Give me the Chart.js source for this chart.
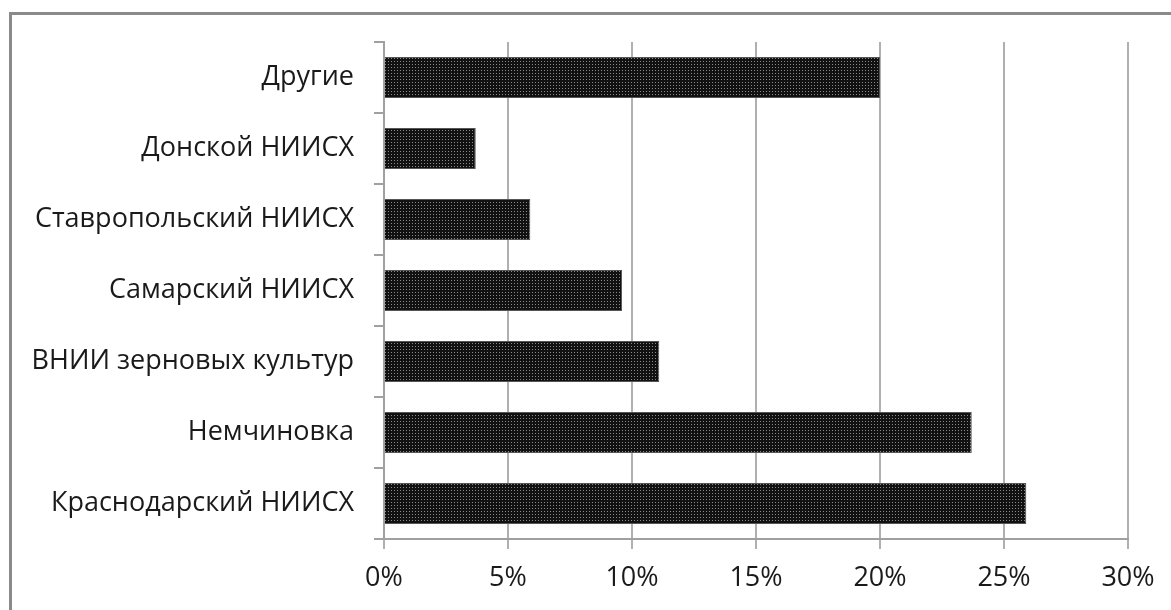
<!DOCTYPE html>
<html>
<head>
<meta charset="utf-8">
<script src="https://cdn.jsdelivr.net/npm/chart.js@4"></script>
<style>
  html, body { margin: 0; padding: 0; background: #fff; overflow: hidden; }
  #wrap { position: relative; width: 1171px; height: 610px; }
  #frame { position: absolute; left: 9px; top: 12px; width: 1200px; height: 650px; border: 3px solid #8a8a8a; box-sizing: border-box; }
  canvas { position: absolute; left: 0; top: 0; }
</style>
</head>
<body>
<div id="wrap">
  <div id="frame"></div>
  <canvas id="myChart" width="1171" height="610"></canvas>
</div>
<script>
const labels = ['Другие', 'Донской НИИСХ', 'Ставропольский НИИСХ', 'Самарский НИИСХ',
    'ВНИИ зерновых культур', 'Немчиновка', 'Краснодарский НИИСХ'];
const shares = [20.0, 3.7, 5.9, 9.6, 11.1, 23.7, 25.9];
const xTicks = [0, 5, 10, 15, 20, 25, 30];

// dotted fill like the original bars
function dotPattern() {
    const c = document.createElement('canvas');
    c.width = 3;
    c.height = 3;
    const g = c.getContext('2d');
    g.fillStyle = '#111';
    g.fillRect(0, 0, 3, 3);
    g.fillStyle = '#8a8a8a';
    g.fillRect(1, 1, 1, 1);
    return g.createPattern(c, 'repeat');
}

const font = { family: '"Open Sans", sans-serif', size: 27 };

const data = {
    labels: labels,
    datasets: [{
        data: shares,
        backgroundColor: dotPattern(),
        borderColor: '#555',
        borderWidth: 1,
        categoryPercentage: 1,
        barPercentage: 0.58
    }]
};

const config = {
    type: 'bar',
    data: data,
    options: {
        indexAxis: 'y',
        responsive: false,
        animation: false,
        layout: { padding: { top: 42, right: 43, left: 0, bottom: 0 } },
        plugins: { legend: { display: false }, tooltip: { enabled: false } },
        scales: {
            x: {
                min: 0,
                max: 30,
                afterBuildTicks: (scale) => { scale.ticks = xTicks.map(v => ({ value: v })); },
                afterFit: (scale) => { scale.height = 71; },
                ticks: { callback: (v) => v + '%', color: '#1a1a1a', font: font, padding: 13 },
                grid: { color: '#b0b0b0', lineWidth: 2, tickLength: 10 },
                border: { color: '#a0a0a0', width: 2 }
            },
            y: {
                afterFit: (scale) => { scale.width = 384; },
                ticks: { color: '#1a1a1a', font: font, padding: 20 },
                grid: { drawOnChartArea: false, color: '#a0a0a0', lineWidth: 2, tickLength: 10, offset: true },
                border: { color: '#a0a0a0', width: 2 }
            }
        }
    }
};

// eslint-disable-next-line
const myChart = new Chart(document.getElementById('myChart'), config);
</script>
</body>
</html>
